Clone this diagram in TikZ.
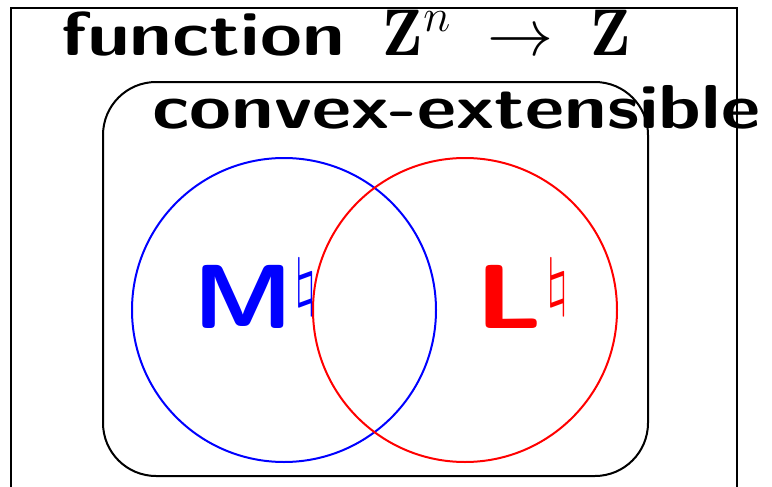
\RequirePackage{fix-cm}
\documentclass[tikz,border=0pt]{standalone}
\usepackage{fontspec}
\usepackage{graphicx}
\usepackage{tikz}
% wide bold sans, as in the slide
\newcommand{\widesf}[2][1.23]{\scalebox{#1}[1]{#2}}
\newcommand{\nat}{\raisebox{-4.5pt}{$^{\natural}$}}

\begin{document}
\begin{tikzpicture}[x=0.5pt, y=-0.5pt,
    frame/.style={draw=black, line width=1pt},
    setline/.style={line width=1pt},
    heading/.style={anchor=base west, inner sep=0pt,
      font=\sffamily\bfseries\fontsize{31}{37}\selectfont},
    setname/.style={anchor=base west, inner sep=0pt,
      font=\sffamily\bfseries\fontsize{45.5}{52}\selectfont}]
  % page
  \path[use as bounding box] (0,0) rectangle (772,487);
  \clip (0,0) rectangle (772,487);
  % outer frame (cut off at the bottom)
  \draw[frame] (11,8) rectangle (737,520);
  % convex-extensible box
  \draw[frame, rounded corners=26.5pt] (103,82) rectangle (648,476);
  % the two classes
  \draw[setline, blue] (284,310) circle (152);
  \draw[setline, red]  (465,310) circle (152);
  % labels
  \node[heading] (fn) at (61,55)
    {\widesf{function}\hspace{19pt}{\fontsize{33}{39}\selectfont
     $\mathbf{Z}^n \;\to\; \mathbf{Z}$}};
  \node[heading] (cx) at (152,128) {\widesf{convex-extensible}};
  \node[setname, text=blue] (mn) at (193,328) {\widesf[1.12]{M}\nat};
  \node[setname, text=red]  (ln) at (475,328) {\widesf[1.27]{L}\kern1.5pt\nat};
\end{tikzpicture}
\end{document}
